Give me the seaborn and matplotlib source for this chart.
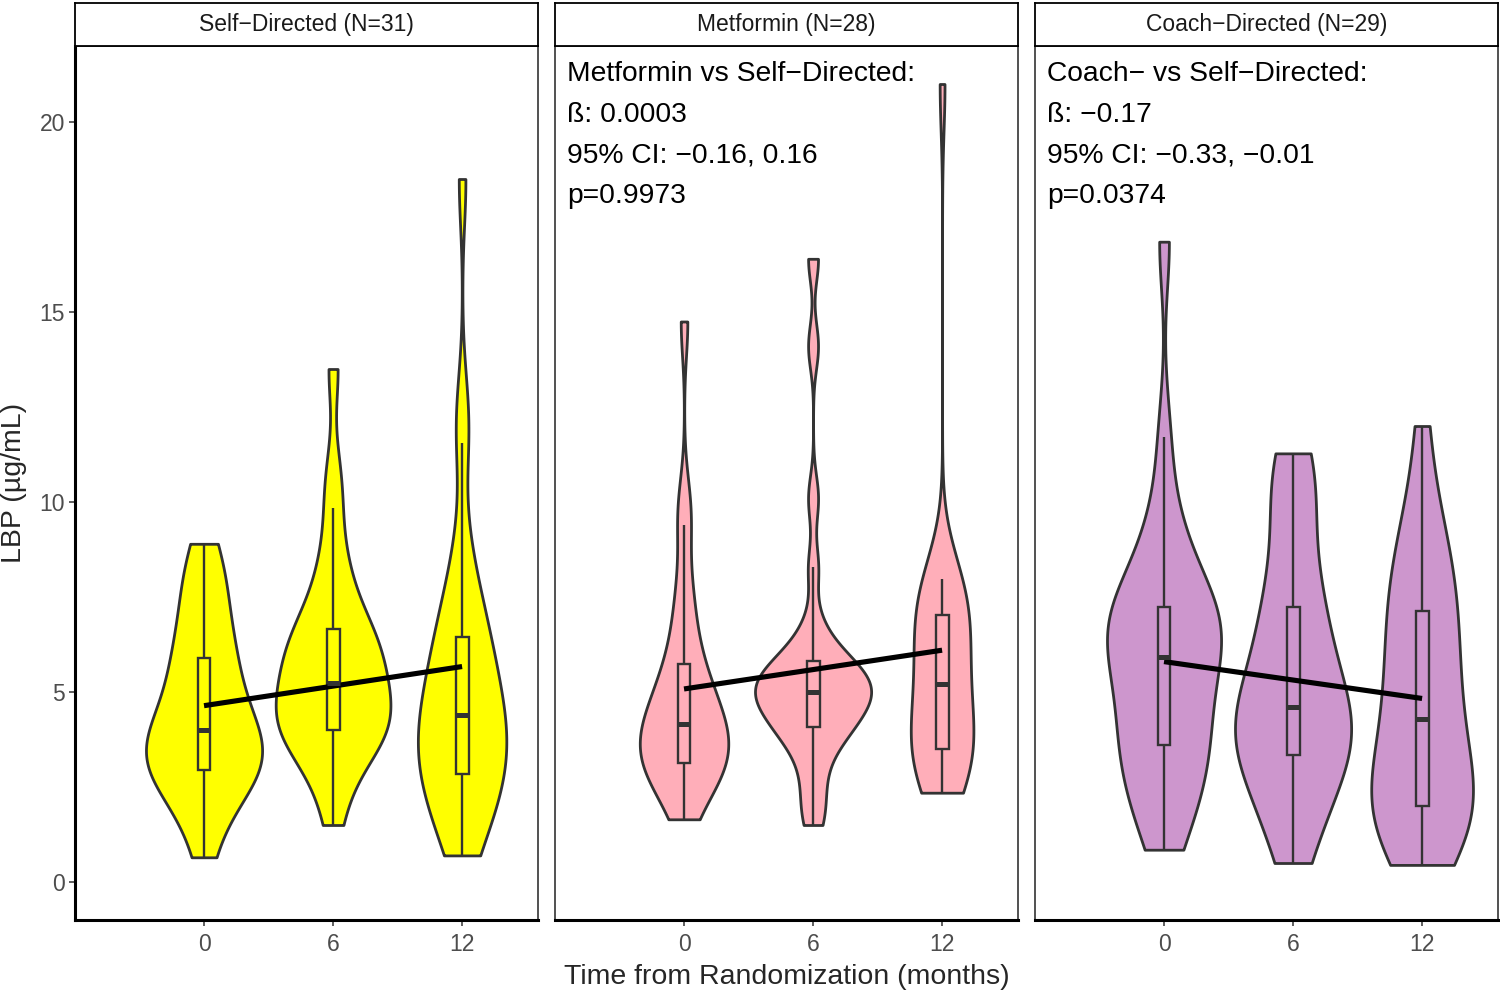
import numpy as np
import pandas as pd
import matplotlib
matplotlib.use("Agg")
import matplotlib.pyplot as plt
import seaborn as sns

# ---------------- data ----------------
groups = ["Self\u2212Directed (N=31)", "Metformin (N=28)", "Coach\u2212Directed (N=29)"]
colors = ["#FFFF00", "#FFAEB9", "#CD96CD"]
months = [0, 6, 12]

self_m0 = [0.65, 1.3, 1.9, 2.3, 2.55, 2.7, 2.85, 2.9, 3.0, 3.2, 3.35, 3.5, 3.6, 3.7, 3.85, 4.0,
           4.2, 4.4, 4.7, 5.0, 5.3, 5.6, 5.8, 6.0, 6.4, 6.8, 7.2, 7.6, 8.0, 8.5, 8.9]
self_m6 = [1.5, 2.3, 2.9, 3.3, 3.55, 3.75, 3.9, 3.95, 4.05, 4.2, 4.4, 4.55, 4.7, 4.9, 5.1, 5.25,
           5.45, 5.65, 5.85, 6.05, 6.25, 6.45, 6.55, 6.75, 7.1, 7.6, 8.1, 8.7, 9.85, 10.8, 13.5]
self_m12 = [0.7, 1.0, 1.4, 1.8, 2.1, 2.4, 2.6, 2.8, 2.9, 3.1, 3.4, 3.6, 3.8, 4.0, 4.2, 4.4,
            4.6, 4.8, 5.1, 5.4, 5.7, 6.0, 6.3, 6.6, 7.0, 7.4, 8.0, 9.0, 11.55, 12.5, 18.5]

met_m0 = [1.65, 2.1, 2.5, 2.75, 2.9, 3.0, 3.1, 3.15, 3.35, 3.5, 3.65, 3.8, 3.95, 4.1,
          4.22, 4.4, 4.6, 4.8, 5.05, 5.3, 5.7, 5.9, 6.6, 7.2, 7.9, 9.39, 10.0, 14.75]
met_m6 = [1.5, 2.0, 2.6, 3.2, 3.6, 3.9, 4.05, 4.1, 4.3, 4.5, 4.65, 4.8, 4.9, 4.95,
          5.05, 5.15, 5.25, 5.35, 5.5, 5.65, 5.8, 5.9, 6.2, 6.8, 8.28, 10.1, 14.1, 16.4]
met_m12 = [2.35, 2.55, 2.75, 2.95, 3.1, 3.25, 3.45, 3.5, 3.7, 3.9, 4.15, 4.45, 4.75, 5.05,
           5.35, 5.6, 5.85, 6.1, 6.4, 6.65, 6.95, 7.3, 7.45, 7.6, 7.75, 7.9, 7.97, 21.0]

coach_m0 = [0.85, 1.4, 1.9, 2.3, 2.7, 3.0, 3.3, 3.6, 3.9, 4.2, 4.5, 4.85, 5.2, 5.6, 5.93,
            6.15, 6.35, 6.55, 6.75, 6.9, 7.05, 7.23, 7.5, 7.9, 8.4, 9.0, 9.8, 11.72, 16.85]
coach_m6 = [0.5, 1.1, 1.6, 2.1, 2.5, 2.85, 3.15, 3.34, 3.55, 3.75, 3.95, 4.15, 4.3, 4.45, 4.6,
            4.9, 5.3, 5.7, 6.1, 6.5, 6.9, 7.25, 7.7, 8.3, 9.2, 10.0, 10.6, 11.0, 11.28]
coach_m12 = [0.45, 0.8, 1.1, 1.35, 1.55, 1.75, 1.9, 2.01, 2.3, 2.6, 2.9, 3.2, 3.6, 3.95, 4.29,
             4.7, 5.1, 5.5, 5.9, 6.3, 6.7, 7.14, 7.5, 7.9, 8.3, 8.8, 9.4, 10.2, 12.0]

group_values = [[self_m0, self_m6, self_m12],
                [met_m0, met_m6, met_m12],
                [coach_m0, coach_m6, coach_m12]]

# model-fitted trend (value at month 0 and month 12)
fit_months = [0, 12]
fit_start = [4.64, 5.08, 5.80]
fit_end = [5.67, 6.10, 4.83]

annotations = [
    [],
    ["Metformin vs Self\u2212Directed:", "\u00df: 0.0003", "95% CI: \u22120.16, 0.16", "p=0.9973"],
    ["Coach\u2212 vs Self\u2212Directed:", "\u00df: \u22120.17", "95% CI: \u22120.33, \u22120.01", "p=0.0374"],
]

x_label = "Time from Randomization (months)"
y_label = "LBP (\u00b5g/mL)"
y_ticks = [0, 5, 10, 15, 20]

# ---------------- style ----------------
sns.set_theme(style="white")
plt.rcParams["font.family"] = ["Liberation Sans", "DejaVu Sans"]
plt.rcParams["axes.unicode_minus"] = True

W, H = 1500, 992
fig = plt.figure(figsize=(W / 100, H / 100), dpi=100)
fig.patch.set_facecolor("white")

panel_left = [75, 555, 1035]
panel_w = 463
panel_top, panel_bot = 46, 920
strip_top = 3

GREY = "#333333"


def nrd0(kde):
    x = np.asarray(kde.dataset).ravel()
    sd = np.std(x, ddof=1)
    q75, q25 = np.percentile(x, [75, 25])
    lo = min(sd, (q75 - q25) / 1.34)
    return 0.9 * lo * len(x) ** (-0.2) / sd


for i, (grp, col) in enumerate(zip(groups, colors)):
    rows = []
    for m, vals in zip(months, group_values[i]):
        for v in vals:
            rows.append({"month": m, "lbp": v})
    df = pd.DataFrame(rows)

    ax = fig.add_axes([panel_left[i] / W, (H - panel_bot) / H,
                       panel_w / W, (panel_bot - panel_top) / H])
    ax.set_facecolor("white")

    sns.violinplot(data=df, x="month", y="lbp", native_scale=True, color=col,
                   saturation=1, linecolor=GREY, linewidth=2.0, inner=None, cut=0,
                   density_norm="area", bw_method=nrd0, width=0.9, gridsize=512, ax=ax)
    sns.boxplot(data=df, x="month", y="lbp", native_scale=True, width=0.1, color=col,
                saturation=1, linecolor=GREY, linewidth=1.7, showfliers=False,
                showcaps=False, whis=1.5, medianprops={"linewidth": 3.6}, ax=ax)
    sns.lineplot(x=fit_months, y=[fit_start[i], fit_end[i]], color="black",
                 linewidth=3.7, solid_capstyle="butt", ax=ax)

    ax.set_xlim(-6.0, 15.53)
    ax.set_ylim(-1.0, 22.0)
    ax.set_xticks(months)
    ax.set_xticklabels([str(m) for m in months])
    ax.set_xlabel("")
    ax.set_ylabel("")
    ax.tick_params(axis="x", bottom=True, length=4.3, width=1.1, color=GREY,
                   labelsize=16.5, labelcolor="#4D4D4D", pad=5)
    if i == 0:
        ax.set_yticks(y_ticks)
        ax.set_yticklabels([str(t) for t in y_ticks])
        ax.tick_params(axis="y", left=True, length=4.3, width=1.1, color=GREY,
                       labelsize=16.5, labelcolor="#4D4D4D", pad=3)
    else:
        ax.set_yticks(y_ticks)
        ax.tick_params(axis="y", left=False, labelleft=False)

    for side in ["top", "right", "left"]:
        ax.spines[side].set_visible(True)
        ax.spines[side].set_color(GREY)
        ax.spines[side].set_linewidth(1.2)
    ax.spines["bottom"].set_color("black")
    ax.spines["bottom"].set_linewidth(2.2)
    if i == 0:
        ax.spines["left"].set_color("black")
        ax.spines["left"].set_linewidth(2.2)

    tops = [0.0397, 0.0866, 0.1335, 0.180]
    for line, t in zip(annotations[i], tops):
        ax.text(12 / panel_w, 1 - t, line, transform=ax.transAxes, ha="left",
                va="baseline", fontsize=20.3, color="black")

    # facet strip
    sax = fig.add_axes([panel_left[i] / W, (H - panel_top) / H,
                        panel_w / W, (panel_top - strip_top) / H])
    sax.set_facecolor("white")
    sax.set_xticks([])
    sax.set_yticks([])
    for s in sax.spines.values():
        s.set_visible(True)
        s.set_color("black")
        s.set_linewidth(1.3)
    sax.text(0.5, 0.5, grp, transform=sax.transAxes, ha="center", va="center",
             fontsize=16.5, color="#1A1A1A")

fig.text(786.5 / W, 1 - 977 / H, x_label, ha="center", va="center", fontsize=20.5)
fig.text(14 / W, 1 - 483 / H, y_label, ha="center", va="center", rotation=90,
         fontsize=20.5)

fig.savefig("out.png", dpi=100, facecolor="white")
